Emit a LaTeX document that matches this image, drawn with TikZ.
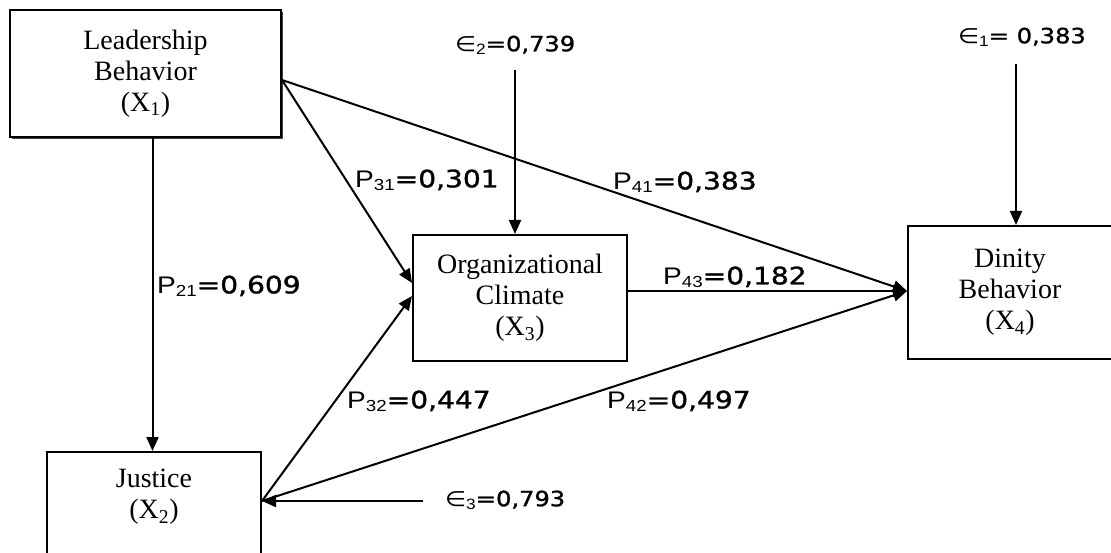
\documentclass[tikz,border=0pt]{standalone}
\usepackage{fontspec}
\setmainfont{Liberation Serif}
\newfontfamily\dsans{DejaVu Sans}[FakeBold=1.2]
\newfontfamily\dsym{DejaVu Sans}
\newfontfamily\lsans{Liberation Sans}
\usetikzlibrary{arrows.meta,shadows}
\newcommand{\pl}[2]{\scalebox{1.17}[1]{\lsans P\raisebox{-3pt}{\fontsize{16}{16}\selectfont #1}\dsans =#2}}
\newcommand{\el}[3]{\scalebox{1.15}[1]{{\dsym ∈}\raisebox{-3pt}{\lsans\fontsize{15}{15}\selectfont #1}\dsans =#3#2}}
\begin{document}
\begin{tikzpicture}[x=1pt,y=-1pt,
  box/.style={draw=black,line width=2pt,fill=white,align=center,inner sep=0pt,
    font=\fontsize{28}{31}\selectfont},
  lab/.style={anchor=west,inner sep=0pt,font=\fontsize{24}{26}\selectfont},
  elab/.style={anchor=west,inner sep=0pt,font=\fontsize{21}{23}\selectfont},
  arr/.style={line width=2pt,-{Triangle[length=14pt,width=12pt]}}]
\useasboundingbox (0,0) rectangle (1111,553);
\node[box,minimum width=271pt,minimum height=127pt,
  drop shadow={shadow xshift=2pt,shadow yshift=-2pt,fill=black!75,opacity=1}]
  (X1) at (145.5,73.5) {Leadership\\Behavior\\(X\textsubscript{1})};
\node[box,minimum width=214pt,minimum height=126pt] (X3) at (520,298)
  {Organizational\\Climate\\(X\textsubscript{3})};
\node[box,minimum width=204pt,minimum height=133pt] (X4) at (1010,292.5)
  {Dinity\\Behavior\\(X\textsubscript{4})};
\node[box,minimum width=214pt,minimum height=128pt] (X2) at (154,516) {};
\node[inner sep=0pt,align=center,font=\fontsize{28}{31}\selectfont] (X2t) at (154,497)
  {Justice\\(X\textsubscript{2})};
% error terms
\coordinate (e2s) at (515,70);
\coordinate (e1s) at (1016,64);
\coordinate (e3s) at (423,501);
\node[elab] (e2) at (455,45) {\el{2}{0,739}{}};
\node[elab] (e1) at (958,37) {\el{1}{0,383}{ }};
\node[elab] (e3) at (445,500) {\el{3}{0,793}{}};
\draw[arr] (e2s) -- (e2s |- X3.north);
\draw[arr] (e1s) -- (e1s |- X4.north);
\draw[arr] (e3s) -- (X2.east |- e3s);
% paths
\coordinate (s1) at ([yshift=-6.5pt]X1.east);
\coordinate (s2) at ([yshift=15pt]X2.east);
\coordinate (t4) at ([yshift=1.5pt]X4.west);
\draw[arr] ([xshift=7pt]X1.south) -- ([xshift=7pt]X1.south |- X2.north);
\draw[arr] (s1) -- ([yshift=15pt]X3.west);
\draw[arr] (s2) -- ([yshift=2pt]X3.west);
\draw[arr] (s1) -- (t4);
\draw[arr] (X3.east |- t4) -- (t4);
\draw[arr] (s2) -- (t4);
% labels
\node[lab] (p31) at (355,180) {\pl{31}{0,301}};
\node[lab] (p41) at (613,182) {\pl{41}{0,383}};
\node[lab] (p21) at (157,286) {\pl{21}{0,609}};
\node[lab] (p43) at (663,277) {\pl{43}{0,182}};
\node[lab] (p32) at (347,401) {\pl{32}{0,447}};
\node[lab] (p42) at (607,401) {\pl{42}{0,497}};
\end{tikzpicture}
\end{document}
